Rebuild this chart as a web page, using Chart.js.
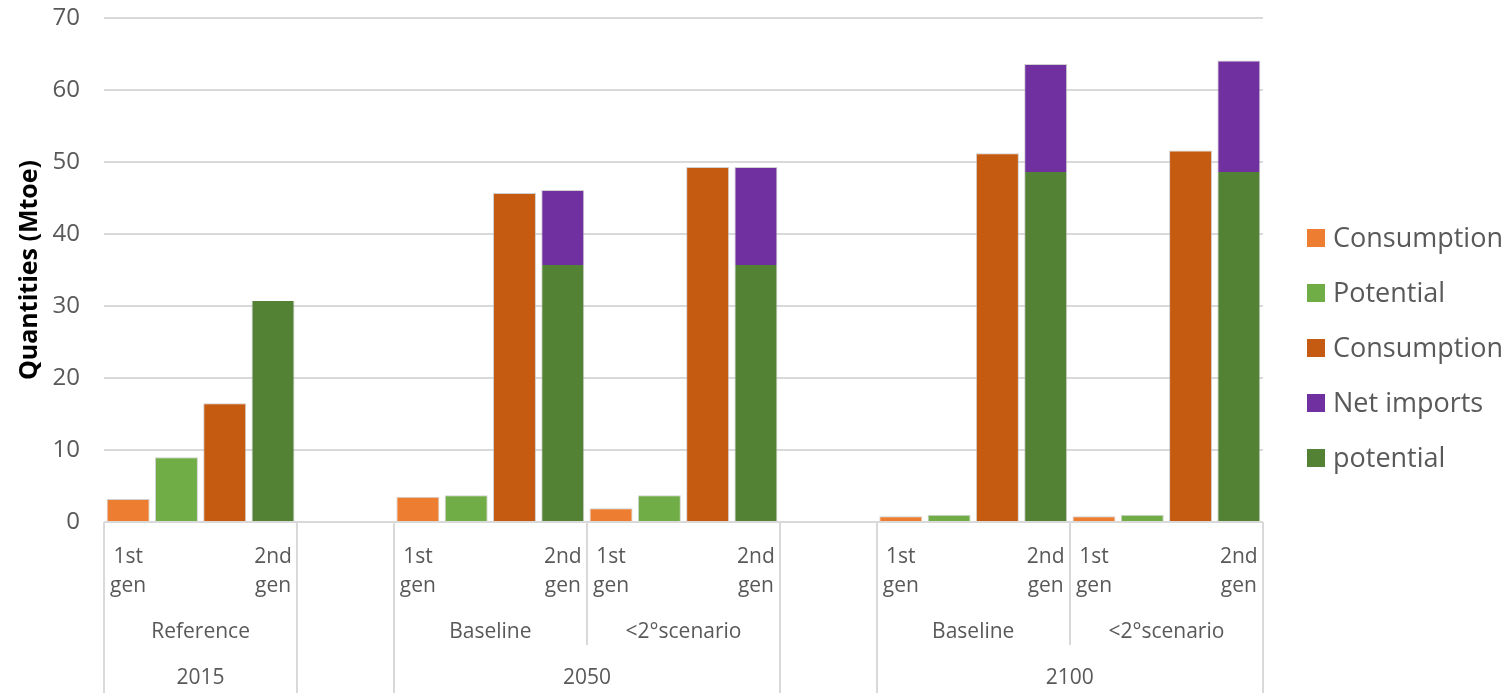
<!DOCTYPE html>
<html>
<head>
<meta charset="utf-8">
<script src="https://cdn.jsdelivr.net/npm/chart.js@4/dist/chart.umd.min.js"></script>
<style>
  html, body { margin: 0; padding: 0; background: #fff; }
  canvas { display: block; }
</style>
</head>
<body>
<canvas id="bioChart" width="1508" height="693"></canvas>
<script>
'use strict';

// Scenarios, in the order they appear along the axis
const scenarioNames = ['Reference', 'Baseline', '<2°scenario', 'Baseline', '<2°scenario'];
const scenarioYears = ['2015', '2050', '2050', '2100', '2100'];
const genLabels = ['1st gen', '2nd gen'];

// Quantities in Mtoe, one value per scenario
const consumption1st = [3.2, 3.5, 1.9, 0.8, 0.8];
const potential1st   = [9.0, 3.7, 3.7, 1.0, 1.0];
const consumption2nd = [16.5, 45.7, 49.3, 51.2, 51.6];
const potential2nd   = [30.7, 35.7, 35.7, 48.6, 48.6];
const netImports     = [0, 10.4, 13.6, 15.0, 15.5];

const yTicks = [0, 10, 20, 30, 40, 50, 60, 70];

const COLORS = {
    cons1: '#ED7D31',
    pot1: '#70AD47',
    cons2: '#C55A11',
    imports: '#7030A0',
    pot2: '#548235'
};
const FONT = '"Open Sans", "DejaVu Sans", sans-serif';
const TEXT_GREY = '#595959';
const LINE_GREY = '#d9d9d9';

// --- build the slot list: 4 slots per scenario, 2 empty slots between years ---
const slots = [];          // { scenario, pos } or null for gaps
let prevYear = null;
scenarioNames.forEach((name, i) => {
    if (prevYear !== null && scenarioYears[i] !== prevYear) {
        slots.push(null, null);
    }
    for (let pos = 0; pos < 4; pos++) slots.push({ scenario: i, pos });
    prevYear = scenarioYears[i];
});

const slotValues = (values, pos) => slots.map(s => (s && s.pos === pos) ? values[s.scenario] : null);

// groups of consecutive slots sharing a key (used for the axis label rows)
function groupSlots(keyFn) {
    const groups = [];
    slots.forEach((s, i) => {
        const key = keyFn(s);
        const last = groups[groups.length - 1];
        if (last && last.key === key) last.end = i;
        else groups.push({ key, start: i, end: i });
    });
    return groups;
}
const scenarioGroups = groupSlots(s => s ? 'sc' + s.scenario : 'gap');
const yearGroups = groupSlots(s => s ? 'y' + scenarioYears[s.scenario] : 'gap');

const barStyle = {
    borderWidth: 1,
    borderColor: 'rgba(190,190,190,0.7)',
    barPercentage: 0.89,
    categoryPercentage: 1.0
};

const datasets = [
    { label: 'Consumption', data: slotValues(consumption1st, 0), backgroundColor: COLORS.cons1, ...barStyle },
    { label: 'Potential', data: slotValues(potential1st, 1), backgroundColor: COLORS.pot1, ...barStyle },
    { label: 'Consumption', data: slotValues(consumption2nd, 2), backgroundColor: COLORS.cons2, ...barStyle },
    { label: 'potential', data: slotValues(potential2nd, 3), backgroundColor: COLORS.pot2, ...barStyle,
      borderWidth: { left: 1, right: 1, top: 0, bottom: 0 } },
    { label: 'Net imports', data: slotValues(netImports, 3), backgroundColor: COLORS.imports, ...barStyle,
      borderWidth: { left: 1, right: 1, top: 1, bottom: 0 } }
];

// legend order differs from stacking order
const legendOrder = [0, 1, 2, 4, 3];

// --- plugin: multi-level category labels with separators ---
const categoryAxisPlugin = {
    id: 'categoryAxis',
    afterDraw(chart) {
        const { ctx, chartArea } = chart;
        const x = chart.scales.x;
        const n = slots.length;
        const edge = i => {
            if (i <= 0) return chartArea.left;
            if (i >= n) return chartArea.right;
            return (x.getPixelForValue(i - 1) + x.getPixelForValue(i)) / 2;
        };
        const top = chartArea.bottom;
        const bottom = chart.height;

        ctx.save();
        ctx.strokeStyle = LINE_GREY;
        ctx.lineWidth = 2;
        const vline = (px, y2) => {
            ctx.beginPath();
            ctx.moveTo(Math.round(px), top);
            ctx.lineTo(Math.round(px), y2);
            ctx.stroke();
        };
        // full-height lines between years and around gaps
        yearGroups.forEach(g => { vline(edge(g.start), bottom); vline(edge(g.end + 1), bottom); });
        // shorter lines between scenarios of the same year
        scenarioGroups.forEach((g, gi) => {
            const next = scenarioGroups[gi + 1];
            if (g.key !== 'gap' && next && next.key !== 'gap') vline(edge(g.end + 1), 645);
        });

        ctx.fillStyle = TEXT_GREY;
        ctx.font = '21px ' + FONT;
        ctx.textAlign = 'center';
        ctx.textBaseline = 'alphabetic';

        // generation labels under the first and last bar of each scenario
        slots.forEach((s, i) => {
            if (!s) return;
            let text = null;
            if (s.pos === 0) text = genLabels[0];
            if (s.pos === 3) text = genLabels[1];
            if (!text) return;
            const cx = x.getPixelForValue(i);
            const words = text.split(' ');
            ctx.fillText(words[0], cx, 563);
            ctx.fillText(words[1], cx, 592);
        });

        scenarioGroups.forEach(g => {
            if (g.key === 'gap') return;
            const name = scenarioNames[+g.key.slice(2)];
            ctx.fillText(name, (edge(g.start) + edge(g.end + 1)) / 2, 638);
        });
        yearGroups.forEach(g => {
            if (g.key === 'gap') return;
            ctx.fillText(g.key.slice(1), (edge(g.start) + edge(g.end + 1)) / 2, 684);
        });
        ctx.restore();
    }
};

// --- plugin: legend on the right ---
const sideLegendPlugin = {
    id: 'sideLegend',
    afterDraw(chart) {
        const { ctx } = chart;
        ctx.save();
        ctx.font = '27px ' + FONT;
        ctx.textAlign = 'left';
        ctx.textBaseline = 'alphabetic';
        legendOrder.forEach((di, row) => {
            const ds = chart.data.datasets[di];
            const cy = 238 + row * 55;
            ctx.fillStyle = ds.backgroundColor;
            ctx.fillRect(1307, cy - 9, 18, 18);
            ctx.fillStyle = TEXT_GREY;
            ctx.fillText(ds.label, 1333, cy + 9);
        });
        ctx.restore();
    }
};

new Chart(document.getElementById('bioChart'), {
    type: 'bar',
    data: { labels: slots.map((s, i) => String(i)), datasets },
    options: {
        responsive: false,
        devicePixelRatio: 1,
        animation: false,
        layout: { padding: { left: 0, top: 0, right: 245, bottom: 171 } },
        plugins: {
            legend: { display: false },
            tooltip: { enabled: false }
        },
        scales: {
            x: {
                display: false,
                stacked: true
            },
            y: {
                stacked: true,
                min: 0,
                max: 70,
                afterFit: scale => { scale.width = 104; scale.paddingTop = 18; },
                afterBuildTicks: scale => { scale.ticks = yTicks.map(v => ({ value: v })); },
                border: { display: false },
                grid: { color: LINE_GREY, lineWidth: 2, drawTicks: false },
                ticks: {
                    padding: 24,
                    color: TEXT_GREY,
                    font: { family: FONT, size: 24 }
                },
                title: {
                    display: true,
                    text: 'Quantities (Mtoe)',
                    color: '#000',
                    font: { family: FONT, size: 25, weight: 'bold' },
                    padding: { top: 15, bottom: 0 }
                }
            }
        }
    },
    plugins: [categoryAxisPlugin, sideLegendPlugin]
});
</script>
</body>
</html>
